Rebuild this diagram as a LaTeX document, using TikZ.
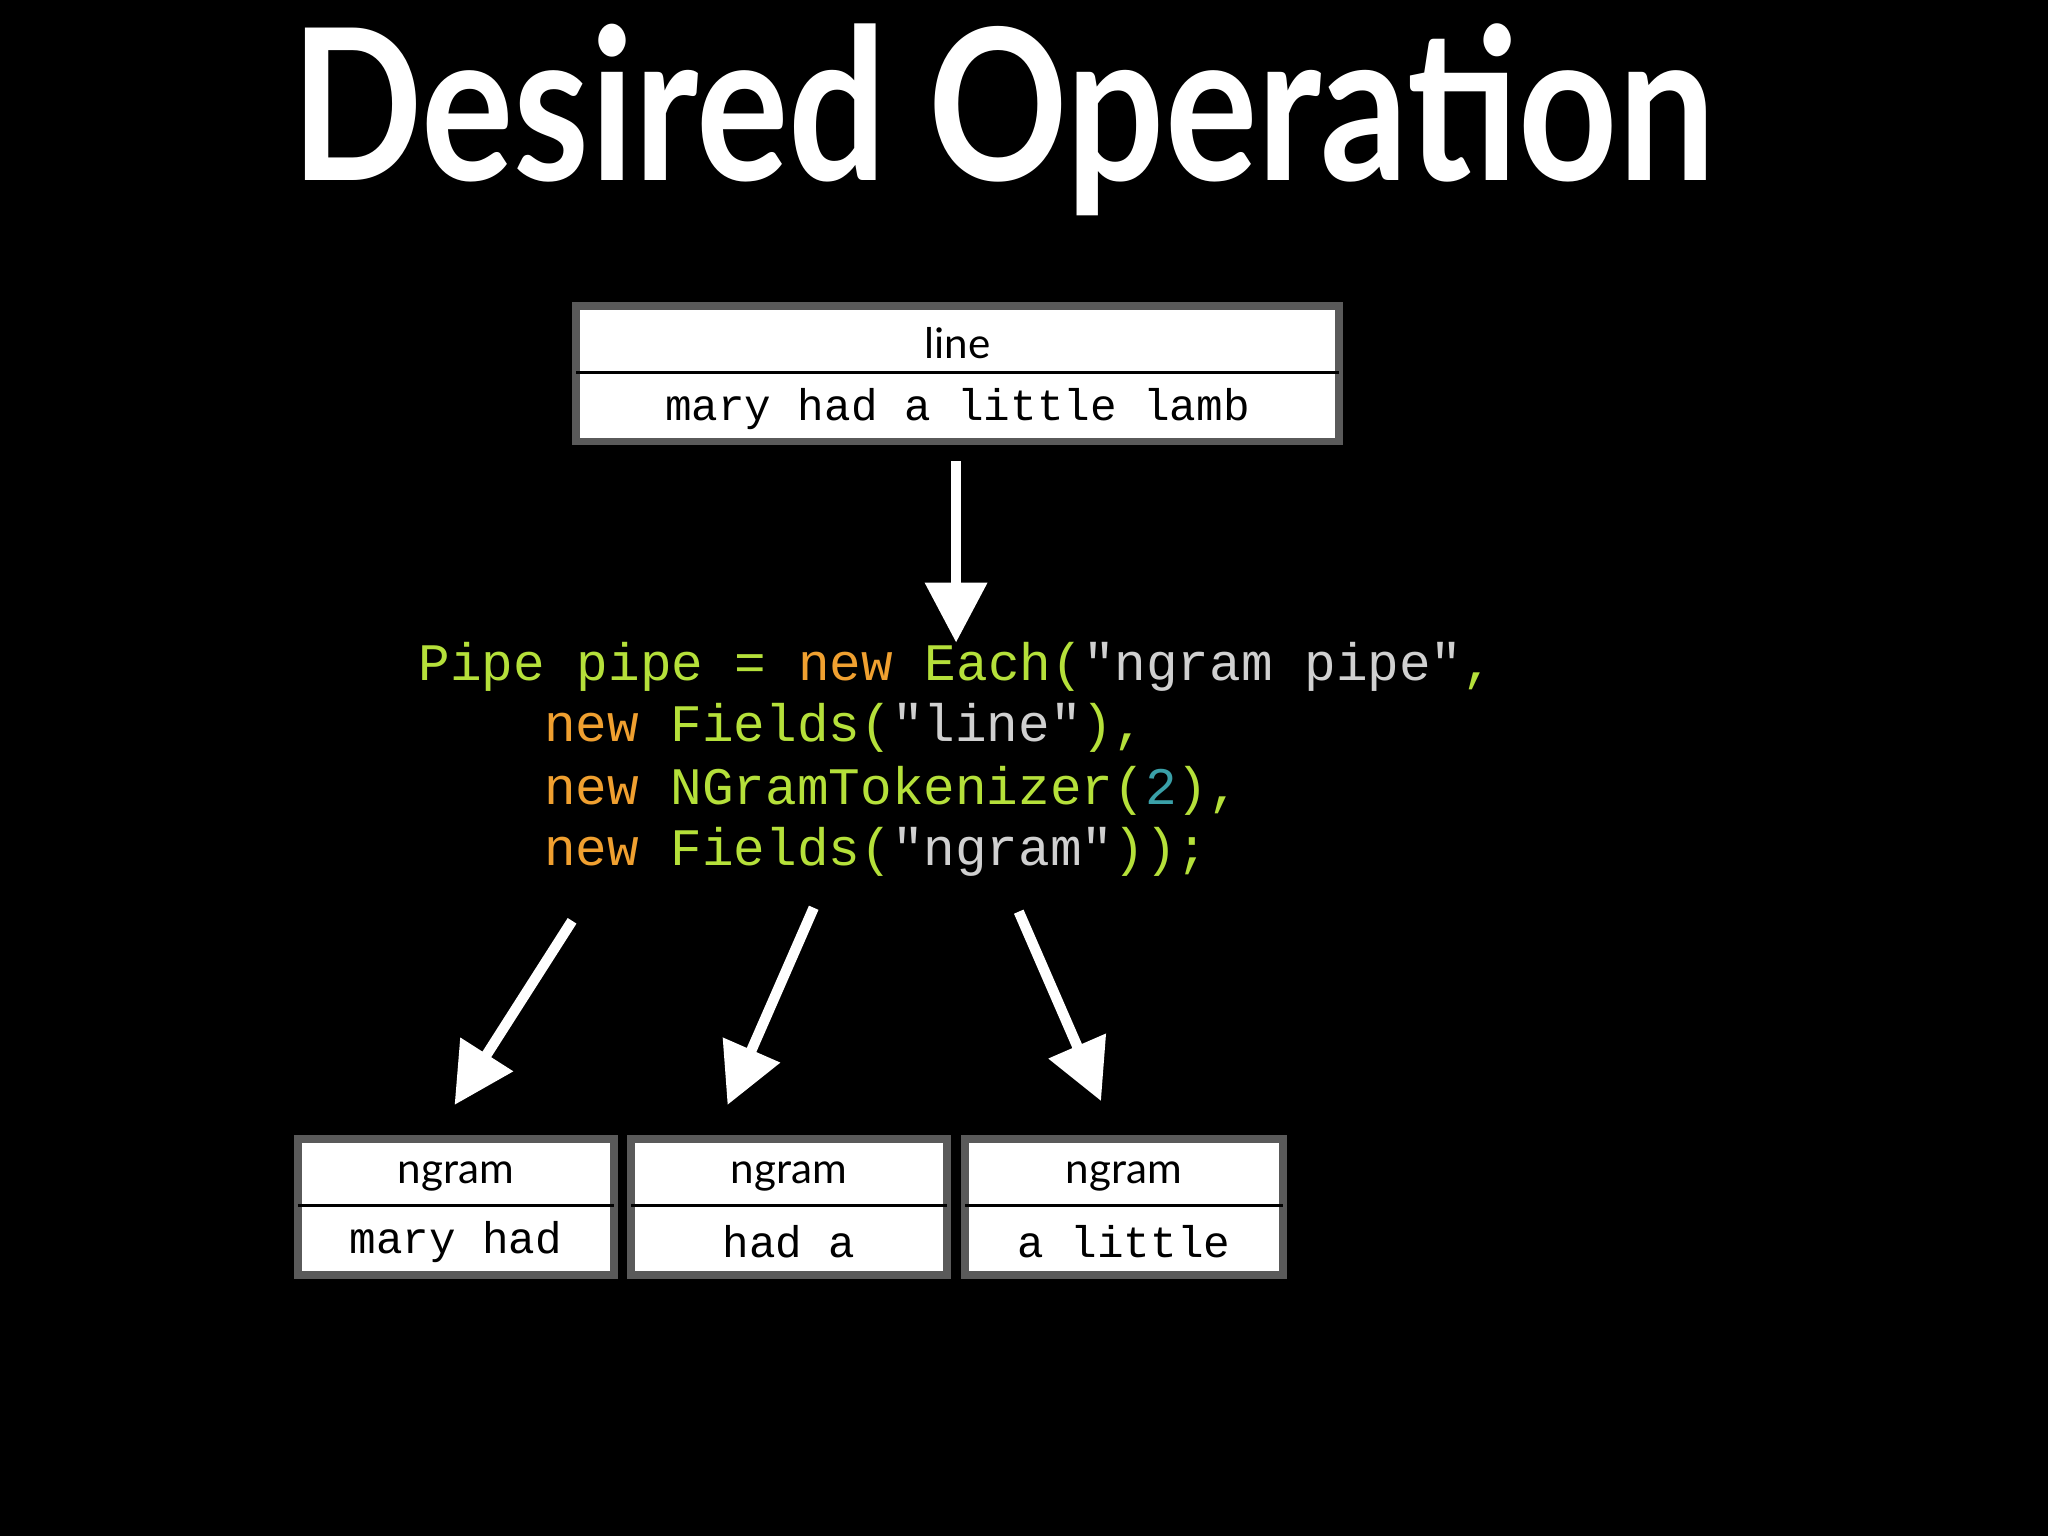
\documentclass[tikz,border=0pt]{standalone}
\usepackage{fontspec}
\setmainfont{Lato}
\setmonofont{Liberation Mono}
\usetikzlibrary{arrows.meta}
\definecolor{cg}{HTML}{B5E03A}
\definecolor{co}{HTML}{F0A030}
\definecolor{cs}{HTML}{D0D0D0}
\definecolor{ct}{HTML}{3AA0A8}
\definecolor{fr}{HTML}{5A5A5A}
\tikzset{
 bigarrow/.style={white,line width=0.104cm,-{Triangle[width=0.6cm,length=0.6cm]}},
 lbl/.style={font=\fontsize{12pt}{12pt}\selectfont,black},
 val/.style={font=\ttfamily\fontsize{12.6pt}{12pt}\selectfont,black},
 code/.style={font=\ttfamily\fontsize{15pt}{15pt}\selectfont,anchor=base west,inner sep=0pt}
}
\newcommand{\recbox}[7]{% name x1 y1 x2 y2 label value
 \fill[fr] (#2,#3) rectangle (#4,#5);
 \fill[white] (#2+6,#3+6) rectangle (#4-6,#5-6);
 \draw[black,line width=0.033cm] (#2+3,{(#3+#5)/2-1}) -- (#4-3,{(#3+#5)/2-1});
 \node[lbl] (#1l) at ({(#2+#4)/2},{(#3+#5)/2-23}) {#6};
 \node[val] (#1v) at ({(#2+#4)/2},{(#3+#5)/2+27}) {#7};
 \coordinate (#1) at ({(#2+#4)/2},#3);
}
\begin{document}
\begin{tikzpicture}[x=0.013061cm,y=-0.013061cm]
\fill[black] (0,0) rectangle (1568,1176);
\node[white,font=\bfseries\fontsize{60pt}{60pt}\selectfont] (title) at (768,92) {\scalebox{0.82}[1]{Desired Operation}};
\recbox{top}{438}{231}{1028}{341}{line}{mary had a little lamb}
\recbox{b1}{225}{869}{473}{979}{ngram}{mary had}
\recbox{b2}{480}{869}{728}{979}{ngram}{had a}
\recbox{b3}{736}{869}{985}{979}{ngram}{a little}
\coordinate (a0) at (732,353); \coordinate (a1) at (732,492);
\draw[bigarrow] (a0) -- (a1);
\node[code] (c1) at (320,521) {\color{cg}Pipe pipe = \color{co}new \color{cg}Each(\color{cs}"ngram pipe"\color{cg},};
\node[code] (c2) at (416,568) {\color{co}new \color{cg}Fields(\color{cs}"line"\color{cg}),};
\node[code] (c3) at (416,616) {\color{co}new \color{cg}NGramTokenizer(\color{ct}2\color{cg}),};
\node[code] (c4) at (416,663) {\color{co}new \color{cg}Fields(\color{cs}"ngram"\color{cg}));};
\coordinate (s1) at (438,705); \coordinate (e1) at (348,846);
\coordinate (s2) at (623,695); \coordinate (e2) at (557,846);
\coordinate (s3) at (780,698); \coordinate (e3) at (843,843);
\draw[bigarrow] (s1) -- (e1);
\draw[bigarrow] (s2) -- (e2);
\draw[bigarrow] (s3) -- (e3);
\end{tikzpicture}
\end{document}
